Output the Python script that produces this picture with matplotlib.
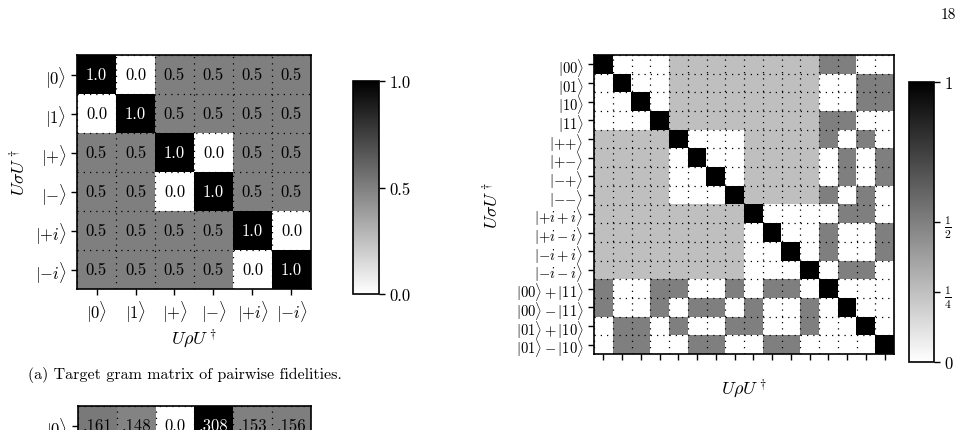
import numpy as np
import matplotlib
matplotlib.use('Agg')
import matplotlib.pyplot as plt

plt.rcParams['font.family'] = 'serif'
plt.rcParams['font.serif'] = ['cmr10']
plt.rcParams['mathtext.fontset'] = 'cm'
plt.rcParams['axes.unicode_minus'] = False

# single qubit states: target gram matrix
labels_1q = [r'$|0\rangle$', r'$|1\rangle$', r'$|{+}\rangle$', r'$|{-}\rangle$',
             r'$|{+i}\rangle$', r'$|{-i}\rangle$']
gram_1q = np.array([
    [1.0, 0.0, 0.5, 0.5, 0.5, 0.5],
    [0.0, 1.0, 0.5, 0.5, 0.5, 0.5],
    [0.5, 0.5, 1.0, 0.0, 0.5, 0.5],
    [0.5, 0.5, 0.0, 1.0, 0.5, 0.5],
    [0.5, 0.5, 0.5, 0.5, 1.0, 0.0],
    [0.5, 0.5, 0.5, 0.5, 0.0, 1.0],
])

# second (cut off) matrix, only the first row is visible
row_label_b = [r'$|0\rangle$']
row_b = np.array([[0.161, 0.148, 0.0, 0.308, 0.153, 0.156]])
row_b_text = ['.161', '.148', '0.0', '.308', '.153', '.156']

# two qubit states
labels_2q = [r'$|00\rangle$', r'$|01\rangle$', r'$|10\rangle$', r'$|11\rangle$',
             r'$|{+}{+}\rangle$', r'$|{+}{-}\rangle$', r'$|{-}{+}\rangle$', r'$|{-}{-}\rangle$',
             r'$|{+i}+i\rangle$', r'$|{+i}-i\rangle$', r'$|{-i}+i\rangle$', r'$|{-i}-i\rangle$',
             r'$|00\rangle+|11\rangle$', r'$|00\rangle-|11\rangle$',
             r'$|01\rangle+|10\rangle$', r'$|01\rangle-|10\rangle$']
q = 0.25
h = 0.5
gram_2q = np.array([
    [1, 0, 0, 0, q, q, q, q, q, q, q, q, h, h, 0, 0],
    [0, 1, 0, 0, q, q, q, q, q, q, q, q, 0, 0, h, h],
    [0, 0, 1, 0, q, q, q, q, q, q, q, q, 0, 0, h, h],
    [0, 0, 0, 1, q, q, q, q, q, q, q, q, h, h, 0, 0],
    [q, q, q, q, 1, 0, 0, 0, q, q, q, q, h, 0, h, 0],
    [q, q, q, q, 0, 1, 0, 0, q, q, q, q, 0, h, 0, h],
    [q, q, q, q, 0, 0, 1, 0, q, q, q, q, 0, h, 0, h],
    [q, q, q, q, 0, 0, 0, 1, q, q, q, q, h, 0, h, 0],
    [q, q, q, q, q, q, q, q, 1, 0, 0, 0, 0, h, h, 0],
    [q, q, q, q, q, q, q, q, 0, 1, 0, 0, h, 0, 0, h],
    [q, q, q, q, q, q, q, q, 0, 0, 1, 0, h, 0, 0, h],
    [q, q, q, q, q, q, q, q, 0, 0, 0, 1, 0, h, h, 0],
    [h, 0, 0, h, h, 0, 0, h, 0, h, h, 0, 1, 0, 0, 0],
    [h, 0, 0, h, 0, h, h, 0, h, 0, 0, h, 0, 1, 0, 0],
    [0, h, h, 0, h, 0, 0, h, h, 0, 0, h, 0, 0, 1, 0],
    [0, h, h, 0, 0, h, h, 0, 0, h, h, 0, 0, 0, 0, 1],
])

W, H = 964, 431


def px(x0, y0, x1, y1):
    return [x0 / W, 1 - y1 / H, (x1 - x0) / W, (y1 - y0) / H]


def dotted_grid(ax, nx, ny):
    ax.set_xticks(np.arange(-0.5, nx, 1), minor=True)
    ax.set_yticks(np.arange(-0.5, ny, 1), minor=True)
    ax.grid(which='minor', color='k', linestyle=(0, (1, 4)), linewidth=0.9)
    ax.grid(which='major', visible=False)
    ax.tick_params(which='minor', length=0)
    for s in ax.spines.values():
        s.set_linewidth(1.2)


fig = plt.figure(figsize=(W / 100, H / 100), dpi=100)
fig.text(948 / W, 1 - 15 / H, '18', ha='center', va='center', fontsize=11)

# (a) gram matrix
ax = fig.add_axes(px(77, 56, 311, 290))
im = ax.imshow(gram_1q, cmap='gray_r', vmin=0, vmax=1, aspect='auto')
dotted_grid(ax, 6, 6)
ax.set_xticks(range(6))
ax.set_yticks(range(6))
ax.set_xticklabels(labels_1q, fontsize=12)
ax.set_yticklabels(labels_1q, fontsize=12)
ax.tick_params(which='major', length=4, width=1)
for i in range(6):
    for j in range(6):
        v = gram_1q[i, j]
        ax.text(j, i, '%.1f' % v, ha='center', va='center', fontsize=12,
                color='white' if v > 0.75 else 'black')
ax.set_xlabel(r'$U\rho U^\dagger$', fontsize=13, labelpad=1)
ax.set_ylabel(r'$U\sigma U^\dagger$', fontsize=13, labelpad=5)

cax = fig.add_axes(px(353, 82, 379, 295))
cb = fig.colorbar(im, cax=cax, ticks=[0, 0.5, 1])
cb.ax.set_yticklabels(['0.0', '0.5', '1.0'], fontsize=12)
cb.outline.set_linewidth(1.2)
cb.ax.tick_params(length=4, width=1)

fig.text(28 / W, 1 - 375 / H, '(a) Target gram matrix of pairwise fidelities.',
         ha='left', va='center', fontsize=11.5)

# second matrix, cut off by the page
axb = fig.add_axes(px(78, 407, 311, 446))
axb.imshow(row_b, cmap='gray_r', vmin=0, vmax=row_b.max(), aspect='auto')
dotted_grid(axb, 6, 1)
axb.set_xticks([])
axb.set_yticks([0])
axb.set_yticklabels(row_label_b, fontsize=12)
axb.tick_params(which='major', length=4, width=1)
for j in range(6):
    v = row_b[0, j]
    axb.text(j, 0, row_b_text[j], ha='center', va='center', fontsize=12,
             color='white' if v / row_b.max() > 0.75 else 'black')

# two qubit gram matrix
ax2 = fig.add_axes(px(594, 56, 894, 355))
im2 = ax2.imshow(gram_2q, cmap='gray_r', vmin=0, vmax=1, aspect='auto')
dotted_grid(ax2, 16, 16)
ax2.set_xticks(range(16))
ax2.set_xticklabels([])
ax2.set_yticks(range(16))
ax2.set_yticklabels(labels_2q, fontsize=10.5)
ax2.tick_params(which='major', length=4, width=1)
ax2.set_xlabel(r'$U\rho U^\dagger$', fontsize=13, labelpad=8)
ax2.set_ylabel(r'$U\sigma U^\dagger$', fontsize=13, labelpad=10)

cax2 = fig.add_axes(px(909, 83, 934, 363))
cb2 = fig.colorbar(im2, cax=cax2, ticks=[0, 0.25, 0.5, 1])
cb2.ax.set_yticklabels(['0', r'$\frac{1}{4}$', r'$\frac{1}{2}$', '1'], fontsize=12)
cb2.outline.set_linewidth(1.2)
cb2.ax.tick_params(length=4, width=1)

fig.savefig('out.png', dpi=100)
